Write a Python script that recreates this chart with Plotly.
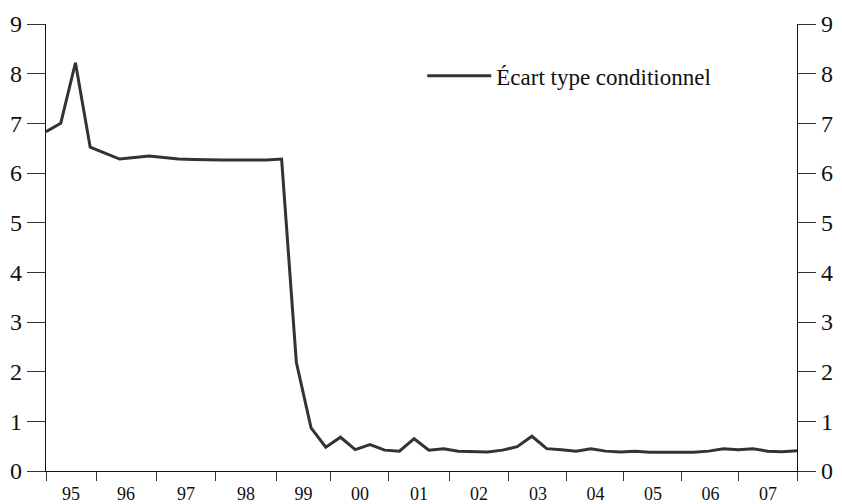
import plotly.graph_objects as go

# Quarterly values, 1995Q1 .. 2007Q4
ecart_type = [
    6.83, 7.00, 8.22, 6.52, 6.40, 6.28, 6.31, 6.34, 6.31, 6.28,
    6.27, 6.26, 6.26, 6.26, 6.26, 6.26, 6.28, 2.19, 0.87, 0.48,
    0.68, 0.43, 0.53, 0.42, 0.40, 0.65, 0.42, 0.45, 0.40, 0.39,
    0.385, 0.42, 0.49, 0.70, 0.45, 0.43, 0.40, 0.45, 0.40, 0.385,
    0.40, 0.38, 0.38, 0.38, 0.38, 0.40, 0.45, 0.43, 0.45, 0.40,
    0.39, 0.41,
]
quarters = list(range(len(ecart_type)))

year_labels = ["95", "96", "97", "98", "99", "00", "01", "02", "03",
               "04", "05", "06", "07"]
# year boundaries, expressed in quarter-index units
year_bounds = [0, 3.40, 7.47, 11.54, 15.62, 19.35, 23.29, 27.37, 31.44,
               35.38, 39.25, 43.19, 47.06, 51]
label_pos = [(a + b) / 2 for a, b in zip(year_bounds[:-1], year_bounds[1:])]

series_name = "Écart type conditionnel"
line_color = "#333333"
font_family = "Liberation Serif"

fig = go.Figure()
fig.add_trace(go.Scatter(
    x=quarters, y=ecart_type, mode="lines", name=series_name,
    line=dict(color=line_color, width=3),
))
fig.add_trace(go.Scatter(
    x=quarters, y=ecart_type, mode="lines", yaxis="y2", showlegend=False,
    line=dict(color=line_color, width=3), opacity=0, hoverinfo="skip",
))

fig.update_layout(
    width=842, height=504,
    margin=dict(l=46, r=45, t=24, b=33),
    plot_bgcolor="white", paper_bgcolor="white",
    font=dict(family=font_family, color="#111111"),
    showlegend=True,
    legend=dict(
        x=0.501, y=0.884, xanchor="left", yanchor="middle",
        bgcolor="rgba(0,0,0,0)", borderwidth=0,
        font=dict(size=23, family=font_family, color="#111111"),
        itemwidth=64,
    ),
    xaxis=dict(
        range=[0, 51], showgrid=False, zeroline=False, automargin=False,
        showline=True, linecolor="#111111", linewidth=1.3,
        tickmode="array", tickvals=label_pos, ticktext=year_labels,
        ticks="", ticklabelstandoff=6,
        tickfont=dict(size=18, family=font_family, color="#111111"),
        minor=dict(tickmode="array", tickvals=year_bounds, ticks="outside",
                   ticklen=9, tickwidth=1.3, tickcolor="#333333",
                   showgrid=False),
    ),
    yaxis=dict(
        range=[0, 9], showgrid=False, zeroline=False, automargin=False,
        showline=True, linecolor="#111111", linewidth=1.3,
        tickmode="array", tickvals=list(range(10)),
        ticks="outside", ticklen=18, tickwidth=1.3, tickcolor="#333333",
        tickfont=dict(size=24, family=font_family, color="#111111"),
    ),
    yaxis2=dict(
        range=[0, 9], overlaying="y", side="right", anchor="x",
        showgrid=False, zeroline=False, automargin=False,
        showline=True, linecolor="#111111", linewidth=1.3,
        tickmode="array", tickvals=list(range(10)),
        ticks="outside", ticklen=18, tickwidth=1.3, tickcolor="#333333",
        tickfont=dict(size=24, family=font_family, color="#111111"),
    ),
)

fig.write_html(
    "out.html",
    config={"displayModeBar": False},
    post_script="document.body.style.margin='0';document.body.style.overflow='hidden';",
)
